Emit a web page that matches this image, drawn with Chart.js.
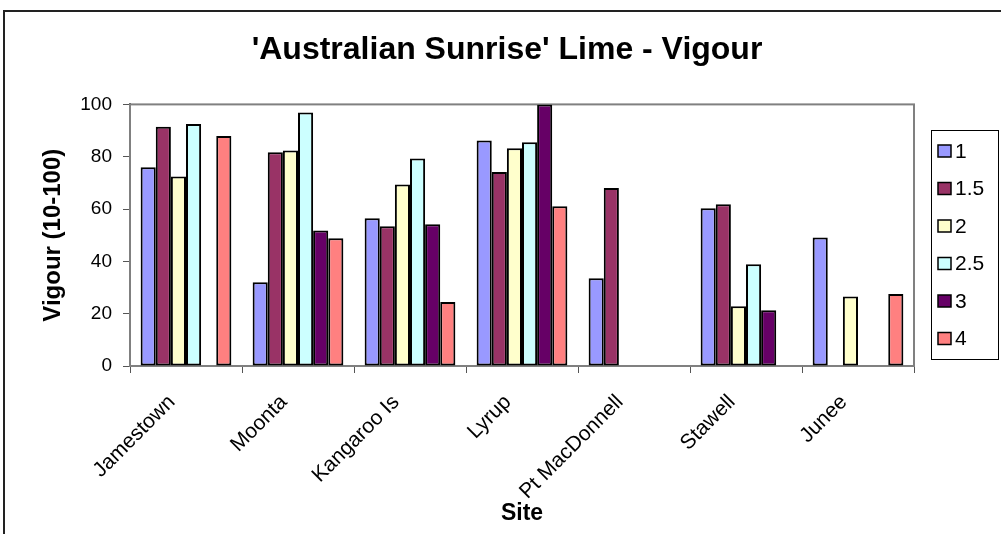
<!DOCTYPE html>
<html>
<head>
<meta charset="utf-8">
<title>'Australian Sunrise' Lime - Vigour</title>
<script src="https://cdn.jsdelivr.net/npm/chart.js@4.4.1/dist/chart.umd.min.js"></script>
<style>
  html, body { margin: 0; padding: 0; background: #fff; }
  #wrap { position: relative; width: 1001px; height: 534px; }
</style>
</head>
<body>
<div id="wrap"><canvas id="chart" width="1001" height="534"></canvas></div>
<script>
const sites = ["Jamestown", "Moonta", "Kangaroo Is", "Lyrup", "Pt MacDonnell", "Stawell", "Junee"];
const seriesNames = ["1", "1.5", "2", "2.5", "3", "4"];
const seriesColors = ["#9999ff", "#993366", "#ffffcc", "#ccffff", "#660066", "#ff8080"];

const vigour1 = [76, 32, 56.5, 86.2, 33.5, 60.3, 49.1];
const vigour15 = [91.5, 81.7, 53.4, 74.2, 68, 61.8, null];
const vigour2 = [72.4, 82.4, 69.4, 83.2, null, 22.8, 26.6];
const vigour25 = [92.5, 96.9, 79.3, 85.5, null, 38.9, null];
const vigour3 = [null, 51.8, 54.2, 100, null, 21.3, null];
const vigour4 = [87.9, 48.8, 24.5, 61.1, null, null, 27.5];

const yTicks = [0, 20, 40, 60, 80, 100];

const FONT = "'Liberation Sans', Arial, sans-serif";

const allSeries = [vigour1, vigour15, vigour2, vigour25, vigour3, vigour4];

// outer frame + plot area border
const framePlugin = {
  id: "frame",
  beforeDraw(chart) {
    const ctx = chart.ctx;
    ctx.save();
    ctx.fillStyle = "#fff";
    ctx.fillRect(0, 0, chart.width, chart.height);
    ctx.strokeStyle = "#222";
    ctx.lineWidth = 2;
    ctx.beginPath();
    ctx.moveTo(4, chart.height);
    ctx.lineTo(4, 11);
    ctx.lineTo(chart.width, 11);
    ctx.stroke();
    ctx.restore();
  },
  beforeDatasetsDraw(chart) {
    const { ctx, chartArea: a } = chart;
    ctx.save();
    ctx.strokeStyle = "#808080";
    ctx.lineWidth = 2;
    ctx.strokeRect(a.left, a.top, a.right - a.left, a.bottom - a.top);
    ctx.restore();
  }
};

// boxed legend on the right, like the spreadsheet one
const boxLegend = {
  id: "boxLegend",
  afterDraw(chart) {
    const { ctx, chartArea: a } = chart;
    const x = a.right + 17, y = 130, w = 67, h = 229;
    ctx.save();
    ctx.fillStyle = "#fff";
    ctx.fillRect(x, y, w, h);
    ctx.strokeStyle = "#000";
    ctx.lineWidth = 1;
    ctx.strokeRect(x + 0.5, y + 0.5, w, h);
    ctx.font = "21px " + FONT;
    ctx.textBaseline = "middle";
    ctx.textAlign = "left";
    chart.data.datasets.forEach((ds, i) => {
      const cy = 151 + i * 37.5;
      ctx.fillStyle = ds.backgroundColor;
      ctx.fillRect(x + 7, cy - 6, 13, 12);
      ctx.strokeStyle = "#000";
      ctx.lineWidth = 1.5;
      ctx.strokeRect(x + 7, cy - 6, 13, 12);
      ctx.fillStyle = "#000";
      ctx.fillText(ds.label, x + 24, cy + 1);
    });
    ctx.restore();
  }
};

new Chart(document.getElementById("chart"), {
  type: "bar",
  data: {
    labels: sites,
    datasets: seriesNames.map((name, i) => ({
      label: name,
      data: allSeries[i],
      backgroundColor: seriesColors[i],
      borderColor: "#000",
      borderWidth: 2,
      borderSkipped: false,
      categoryPercentage: 0.81,
      barPercentage: 1
    }))
  },
  options: {
    responsive: false,
    animation: false,
    layout: { padding: { left: 13, right: 0, top: 0, bottom: 0 } },
    plugins: {
      legend: { display: false },
      tooltip: { enabled: false },
      title: {
        display: true,
        text: "'Australian Sunrise' Lime - Vigour",
        color: "#000",
        font: { family: FONT, size: 32, weight: "bold" },
        padding: { top: 31, bottom: 35 }
      }
    },
    scales: {
      x: {
        afterFit(scale) { scale.height = 168; },
        grid: { display: true, drawOnChartArea: false, offset: true, tickLength: 7, color: "#555" },
        border: { display: true, color: "#555", width: 2 },
        ticks: {
          autoSkip: false,
          minRotation: 45,
          maxRotation: 45,
          padding: 17,
          labelOffset: -14,
          color: "#000",
          font: { family: FONT, size: 21 }
        },
        title: {
          display: true,
          text: "Site",
          color: "#000",
          font: { family: FONT, size: 23, weight: "bold" },
          padding: { top: 0, bottom: 7 }
        }
      },
      y: {
        min: 0,
        max: 100,
        afterFit(scale) { scale.width = 117; },
        afterBuildTicks(scale) { scale.ticks = yTicks.map((v) => ({ value: v })); },
        grid: { display: true, drawOnChartArea: false, tickLength: 7, color: "#555" },
        border: { display: true, color: "#555", width: 2 },
        ticks: {
          padding: 11,
          color: "#000",
          font: { family: FONT, size: 19 }
        },
        title: {
          display: true,
          text: "Vigour (10-100)",
          color: "#000",
          font: { family: FONT, size: 24, weight: "bold" },
          padding: { top: 26, bottom: 0 }
        }
      },
      // empty strip on the right that holds the legend box
      legendSpace: {
        type: "linear",
        position: "right",
        afterFit(scale) { scale.width = 87; },
        grid: { display: false },
        border: { display: false },
        ticks: { display: false }
      }
    }
  },
  plugins: [framePlugin, boxLegend]
});
</script>
</body>
</html>
